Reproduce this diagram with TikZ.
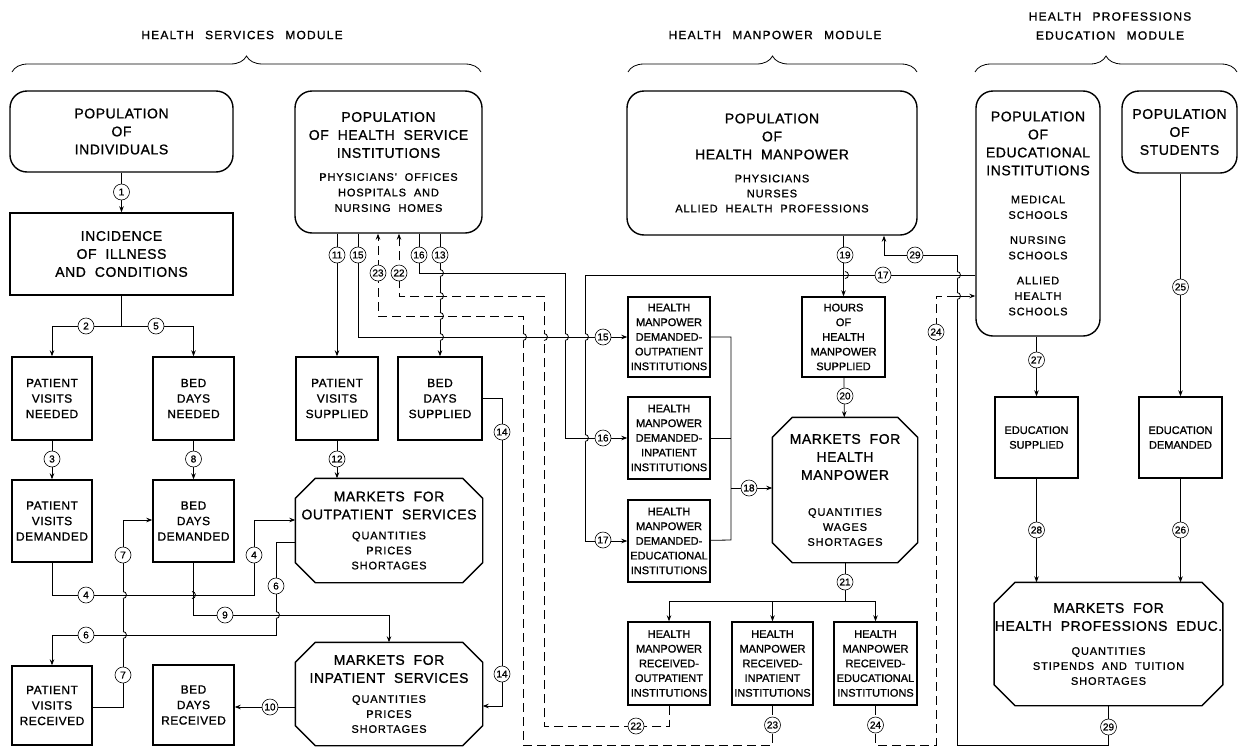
\documentclass[tikz,border=0pt]{standalone}
\usepackage{fontspec}
\setmainfont{Liberation Sans}[WordSpace=2, LetterSpace=4, FakeBold=1]
\newfontfamily\smfam{Liberation Sans}[LetterSpace=8, WordSpace=2, FakeBold=1]
\newfontfamily\hmfam{Liberation Sans}[FakeBold=1]
\newfontfamily\ttlfam{Liberation Sans}[LetterSpace=10, WordSpace=2.5, FakeBold=1]
\usetikzlibrary{arrows.meta, calc, decorations.pathreplacing}

\newcommand{\bigtxt}{\fontsize{14}{18}\selectfont}
\newcommand{\boxtxt}{\fontsize{12}{15.5}\selectfont}
\newcommand{\hmtxt}{\hmfam\fontsize{11}{14.7}\selectfont}
\newcommand{\sm}{\smfam\fontsize{11}{15}\selectfont}
\newcommand{\numtxt}{\hmfam\fontsize{10}{10}\selectfont}
\newcommand{\ttltxt}{\ttlfam\fontsize{12}{19}\selectfont}
%% a vertical line hopping over a horizontal one
\newcommand{\hop}[2]{%
  \draw[white, line width=2.2pt] (#1,#2-3.5) -- (#1,#2+3.5);
  \draw (#1-4,#2) -- (#1+4,#2);
  \draw (#1,#2-3.5) arc(-90:90:3.5);}
%% octagon round a market node, #2 is the corner cut
\newcommand{\octagon}[2]{%
  \draw[line width=1.4pt] ($(#1.north west)+(#2,0)$) -- ($(#1.north east)+(-#2,0)$)
    -- ($(#1.north east)+(0,#2)$) -- ($(#1.south east)+(0,-#2)$)
    -- ($(#1.south east)+(-#2,0)$) -- ($(#1.south west)+(#2,0)$)
    -- ($(#1.south west)+(0,-#2)$) -- ($(#1.north west)+(0,#2)$) -- cycle;}

\tikzset{
every picture/.style={line width=0.8pt, >={Stealth[length=6pt,width=4.5pt]}},
%%%%%%%%%%  Node styles
sz/.style 2 args={minimum width=#1pt, minimum height=#2pt},
popnode/.style={draw, line width=1.4pt, rounded corners=17pt, align=center,
                inner sep=0pt, font=\bigtxt},
box/.style={draw, line width=1.4pt, align=center, inner sep=0pt, font=\boxtxt},
hmbox/.style={draw, line width=1.4pt, align=center, inner sep=0pt, font=\hmtxt},
market/.style={rectangle, line width=1.4pt, align=center, inner sep=0pt, font=\bigtxt},
num/.style={circle, draw, fill=white, line width=0.6pt, inner sep=0pt,
            minimum size=16pt, font=\numtxt},
ttl/.style={align=center, font=\ttltxt},
%%%% line styles
dashedline/.style={dash pattern=on 9pt off 5pt},
modbrace/.style={decorate, decoration={brace, amplitude=16pt}}
}

\begin{document}
\begin{tikzpicture}[x=1pt, y=-1pt]
\useasboundingbox (0,0) rectangle (1239,747);
%% module titles
\node[ttl] (tHS) at (242,35) {HEALTH SERVICES MODULE};
\node[ttl] (tHM) at (775,35) {HEALTH MANPOWER MODULE};
\node[ttl] (tHPE) at (1110,26) {HEALTH PROFESSIONS\\EDUCATION MODULE};
\draw[modbrace] (12,72) -- (481,72);
\draw[modbrace] (628,72) -- (917,72);
\draw[modbrace] (975,72) -- (1237,72);
%%%%%%%%%%%%%%%%%%%%%%%%%%%%%%%%%%%%%%%%%%%%%%
%% health services module
\node[popnode, sz={223}{81}] (popind) at (121.5,131.5) {POPULATION\\OF\\INDIVIDUALS};
\node[popnode, sz={187}{142}] (pophsi) at (388.5,162) {POPULATION\\OF HEALTH SERVICE\\INSTITUTIONS\\[5pt]\sm PHYSICIANS' OFFICES\\[-2.5pt]\sm HOSPITALS AND\\[-2.5pt]\sm NURSING HOMES};
\node[box, font=\bigtxt, sz={223}{82}] (incid) at (121.5,254) {INCIDENCE\\OF ILLNESS\\AND CONDITIONS};
\node[box, sz={80}{83}] (pvn) at (52,398.5) {PATIENT\\VISITS\\NEEDED};
\node[box, sz={81}{83}] (bdn) at (193.5,398.5) {BED\\DAYS\\NEEDED};
\node[box, sz={82}{83}] (pvs) at (337,398.5) {PATIENT\\VISITS\\SUPPLIED};
\node[box, sz={84}{83}] (bds) at (440,398.5) {BED\\DAYS\\SUPPLIED};
\node[box, sz={80}{82}] (pvd) at (52,521) {PATIENT\\VISITS\\DEMANDED};
\node[box, sz={81}{82}] (bdd) at (193.5,521) {BED\\DAYS\\DEMANDED};
\node[market, sz={186}{103}] (mos) at (389,530.5) {MARKETS FOR\\OUTPATIENT SERVICES\\[2pt]\sm QUANTITIES\\[-3pt]\sm PRICES\\[-3pt]\sm SHORTAGES};
\node[market, sz={186}{102}] (mis) at (389,694) {MARKETS FOR\\INPATIENT SERVICES\\[2pt]\sm QUANTITIES\\[-3pt]\sm PRICES\\[-3pt]\sm SHORTAGES};
\node[box, sz={80}{79}] (pvr) at (52,705.5) {PATIENT\\VISITS\\RECEIVED};
\node[box, sz={81}{80}] (bdr) at (193.5,705) {BED\\DAYS\\RECEIVED};
\octagon{mos}{20}
\octagon{mis}{20}
%%%%%%%%%%%%%%%%%%%%%%%%%%%%%%%%%%%%%%%%%%%%%%
%% health manpower module
\node[popnode, sz={290}{144}] (pophm) at (772,163) {POPULATION\\OF\\HEALTH MANPOWER\\[5pt]\sm PHYSICIANS\\[-3pt]\sm NURSES\\[-3pt]\sm ALLIED HEALTH PROFESSIONS};
\node[hmbox, sz={82}{80}] (hmdo) at (669,337) {HEALTH\\MANPOWER\\DEMANDED-\\OUTPATIENT\\INSTITUTIONS};
\node[hmbox, sz={82}{82}] (hmdi) at (669,438) {HEALTH\\MANPOWER\\DEMANDED-\\INPATIENT\\INSTITUTIONS};
\node[hmbox, sz={82}{82}] (hmde) at (669,541) {HEALTH\\MANPOWER\\DEMANDED-\\EDUCATIONAL\\INSTITUTIONS};
\node[hmbox, sz={83}{80}] (hours) at (843.5,337) {HOURS\\OF\\HEALTH\\MANPOWER\\SUPPLIED};
\node[market, sz={144}{144}] (mhm) at (845,490) {MARKETS FOR\\HEALTH\\MANPOWER\\[18pt]\sm QUANTITIES\\[-3pt]\sm WAGES\\[-3pt]\sm SHORTAGES};
\octagon{mhm}{20}
\node[hmbox, sz={82}{83}] (hmro) at (669,663.5) {HEALTH\\MANPOWER\\RECEIVED-\\OUTPATIENT\\INSTITUTIONS};
\node[hmbox, sz={81}{83}] (hmri) at (772.5,663.5) {HEALTH\\MANPOWER\\RECEIVED-\\INPATIENT\\INSTITUTIONS};
\node[hmbox, sz={83}{83}] (hmre) at (875.5,663.5) {HEALTH\\MANPOWER\\RECEIVED-\\EDUCATIONAL\\INSTITUTIONS};
%%%%%%%%%%%%%%%%%%%%%%%%%%%%%%%%%%%%%%%%%%%%%%
%% health professions education module
\node[popnode, sz={124}{245}] (pei) at (1038,213.5) {POPULATION\\OF\\EDUCATIONAL\\INSTITUTIONS\\[10pt]\sm MEDICAL\\[-2.5pt]\sm SCHOOLS\\[7pt]\sm NURSING\\[-2.5pt]\sm SCHOOLS\\[7pt]\sm ALLIED\\[-2.5pt]\sm HEALTH\\[-2.5pt]\sm SCHOOLS};
\node[popnode, sz={115}{82}] (pos) at (1179.5,132) {POPULATION\\OF\\STUDENTS};
\node[box, font=\hmtxt, sz={83}{81}] (es) at (1036.5,437.5) {EDUCATION\\SUPPLIED};
\node[box, font=\hmtxt, sz={83}{81}] (ed) at (1180.5,437.5) {EDUCATION\\DEMANDED};
\node[market, sz={227}{122}] (mhpe) at (1108.5,644) {MARKETS FOR\\HEALTH PROFESSIONS EDUC.\\[6pt]\sm QUANTITIES\\[-3pt]\sm STIPENDS AND TUITION\\[-3pt]\sm SHORTAGES};
\octagon{mhpe}{21}
%%%%%%%%%%%%%%%%%%%%%%%%%%%%%%%%%%%%%%%%%%%%%%
%% connectors, health services
\draw[->] (popind) -- (incid);
\draw (incid.south) -- (incid.south |- 0,326) coordinate (split);
\draw[->] (split) -| (pvn);
\draw[->] (split) -| (bdn);
\draw[->] (pvn) -- (pvd);
\draw[->] (bdn) -- (bdd);
\draw[->] (pvd) |- (254,595) |- (mos.west |- 0,520);
\draw[->] (mos.west |- 0,542) -| (276,635) -| (pvr);
\draw[->] (pvr.east |- 0,707) -| (123,520) -- (bdd.west |- 0,520);
\draw[->] (bdd.south) -- (bdd.south |- 0,615) -| (mis);
\draw[->] (mis.west |- 0,707) -- (bdr.east |- 0,707);
\draw[->] (pophsi.south -| pvs) -- (pvs);
\draw[->] (pvs) -- (mos.north -| pvs);
\draw[->] (pophsi.south -| bds) -- (bds);
\draw[->] (bds) -| (502,706) -- (mis.east |- 0,706);
%% connectors between modules
\draw[->] (pophsi.south -| 358,0) |- (hmdo);
\draw[->] (pophsi.south -| 419,0) |- (565,273) |- (hmdi);
\draw[->] (pei.west |- 0,275) -- (585,275) |- (hmde);
\draw[->, dashedline] (hmro) -- (hmro.south |- 0,726) -| (544,296) -| (pophsi.south -| 399,0);
\draw[->, dashedline] (hmri) -- (hmri.south |- 0,745) -| (523,316) -| (pophsi.south -| 378,0);
\draw[->, dashedline] (hmre) -- (hmre.south |- 0,745) -| (936,296) -- (pei.west |- 0,296);
\draw[->] (mhpe) -- (mhpe.south |- 0,745) -| (957,255) -| (pophm.south -| 884,0);
%% connectors, health manpower
\draw (hmdo) -| (731,540) -- (hmde);
\draw (hmdi) -- (hmdi -| 731,0);
\draw[->] (731,488) -- (mhm.west |- 0,488);
\draw[->] (pophm.south -| hours) -- (hours);
\draw[->] (hours) -- (mhm);
\draw (mhm) -- (mhm.south |- 0,601) coordinate (fan);
\draw[->] (fan) -| (hmro);
\draw[->] (fan) -| (hmre);
\draw[->] (hmri.north |- fan) -- (hmri);
%% connectors, education
\draw[->] (pos.south -| ed) -- (ed);
\draw[->] (pei.south -| es) -- (es);
\draw[->] (es) -- (mhpe.north -| es);
\draw[->] (ed) -- (mhpe.north -| ed);
%% hops
\hop{123}{595} \hop{192}{595} \hop{123}{635} \hop{276}{615}
\hop{440}{273} \hop{440}{296} \hop{440}{316} \hop{440}{337}
\hop{523}{337} \hop{544}{337} \hop{565}{337} \hop{585}{337}
\hop{585}{438} \hop{845}{275} \hop{957}{275} \hop{957}{296}
%% numbers
\node[num] (n1) at (121.5,192) {1};
\node[num] (n2) at (86,326) {2};
\node[num] (n5) at (156,326) {5};
\node[num] (n3) at (52,459) {3};
\node[num] (n8) at (193.5,459) {8};
\node[num] (n4a) at (86,595) {4};
\node[num] (n4b) at (254,555) {4};
\node[num] (n6a) at (276,586) {6};
\node[num] (n6b) at (86,635) {6};
\node[num] (n7a) at (123,555) {7};
\node[num] (n7b) at (123,675) {7};
\node[num] (n9) at (225,615) {9};
\node[num] (n10) at (270,707) {10};
\node[num] (n11) at (337,255) {11};
\node[num] (n15a) at (358,255) {15};
\node[num] (n16a) at (419,255) {16};
\node[num] (n13) at (440,255) {13};
\node[num] (n23a) at (378,273) {23};
\node[num] (n22a) at (399,273) {22};
\node[num] (n12) at (337,459) {12};
\node[num] (n14a) at (502,432) {14};
\node[num] (n14b) at (502,674) {14};
\node[num] (n15b) at (603,337) {15};
\node[num] (n16b) at (603,438) {16};
\node[num] (n17b) at (603,540) {17};
\node[num] (n17a) at (883,275) {17};
\node[num] (n18) at (749,488) {18};
\node[num] (n19) at (845,255) {19};
\node[num] (n20) at (845,396) {20};
\node[num] (n21) at (845,582) {21};
\node[num] (n22b) at (636,726) {22};
\node[num] (n23b) at (772.5,725) {23};
\node[num] (n24a) at (875.5,725) {24};
\node[num] (n24b) at (936,332) {24};
\node[num] (n29a) at (915,255) {29};
\node[num] (n29b) at (1108.5,727) {29};
\node[num] (n25) at (1180.5,287) {25};
\node[num] (n27) at (1036.5,360) {27};
\node[num] (n28) at (1036.5,530) {28};
\node[num] (n26) at (1180.5,530) {26};
\end{tikzpicture}
\end{document}
